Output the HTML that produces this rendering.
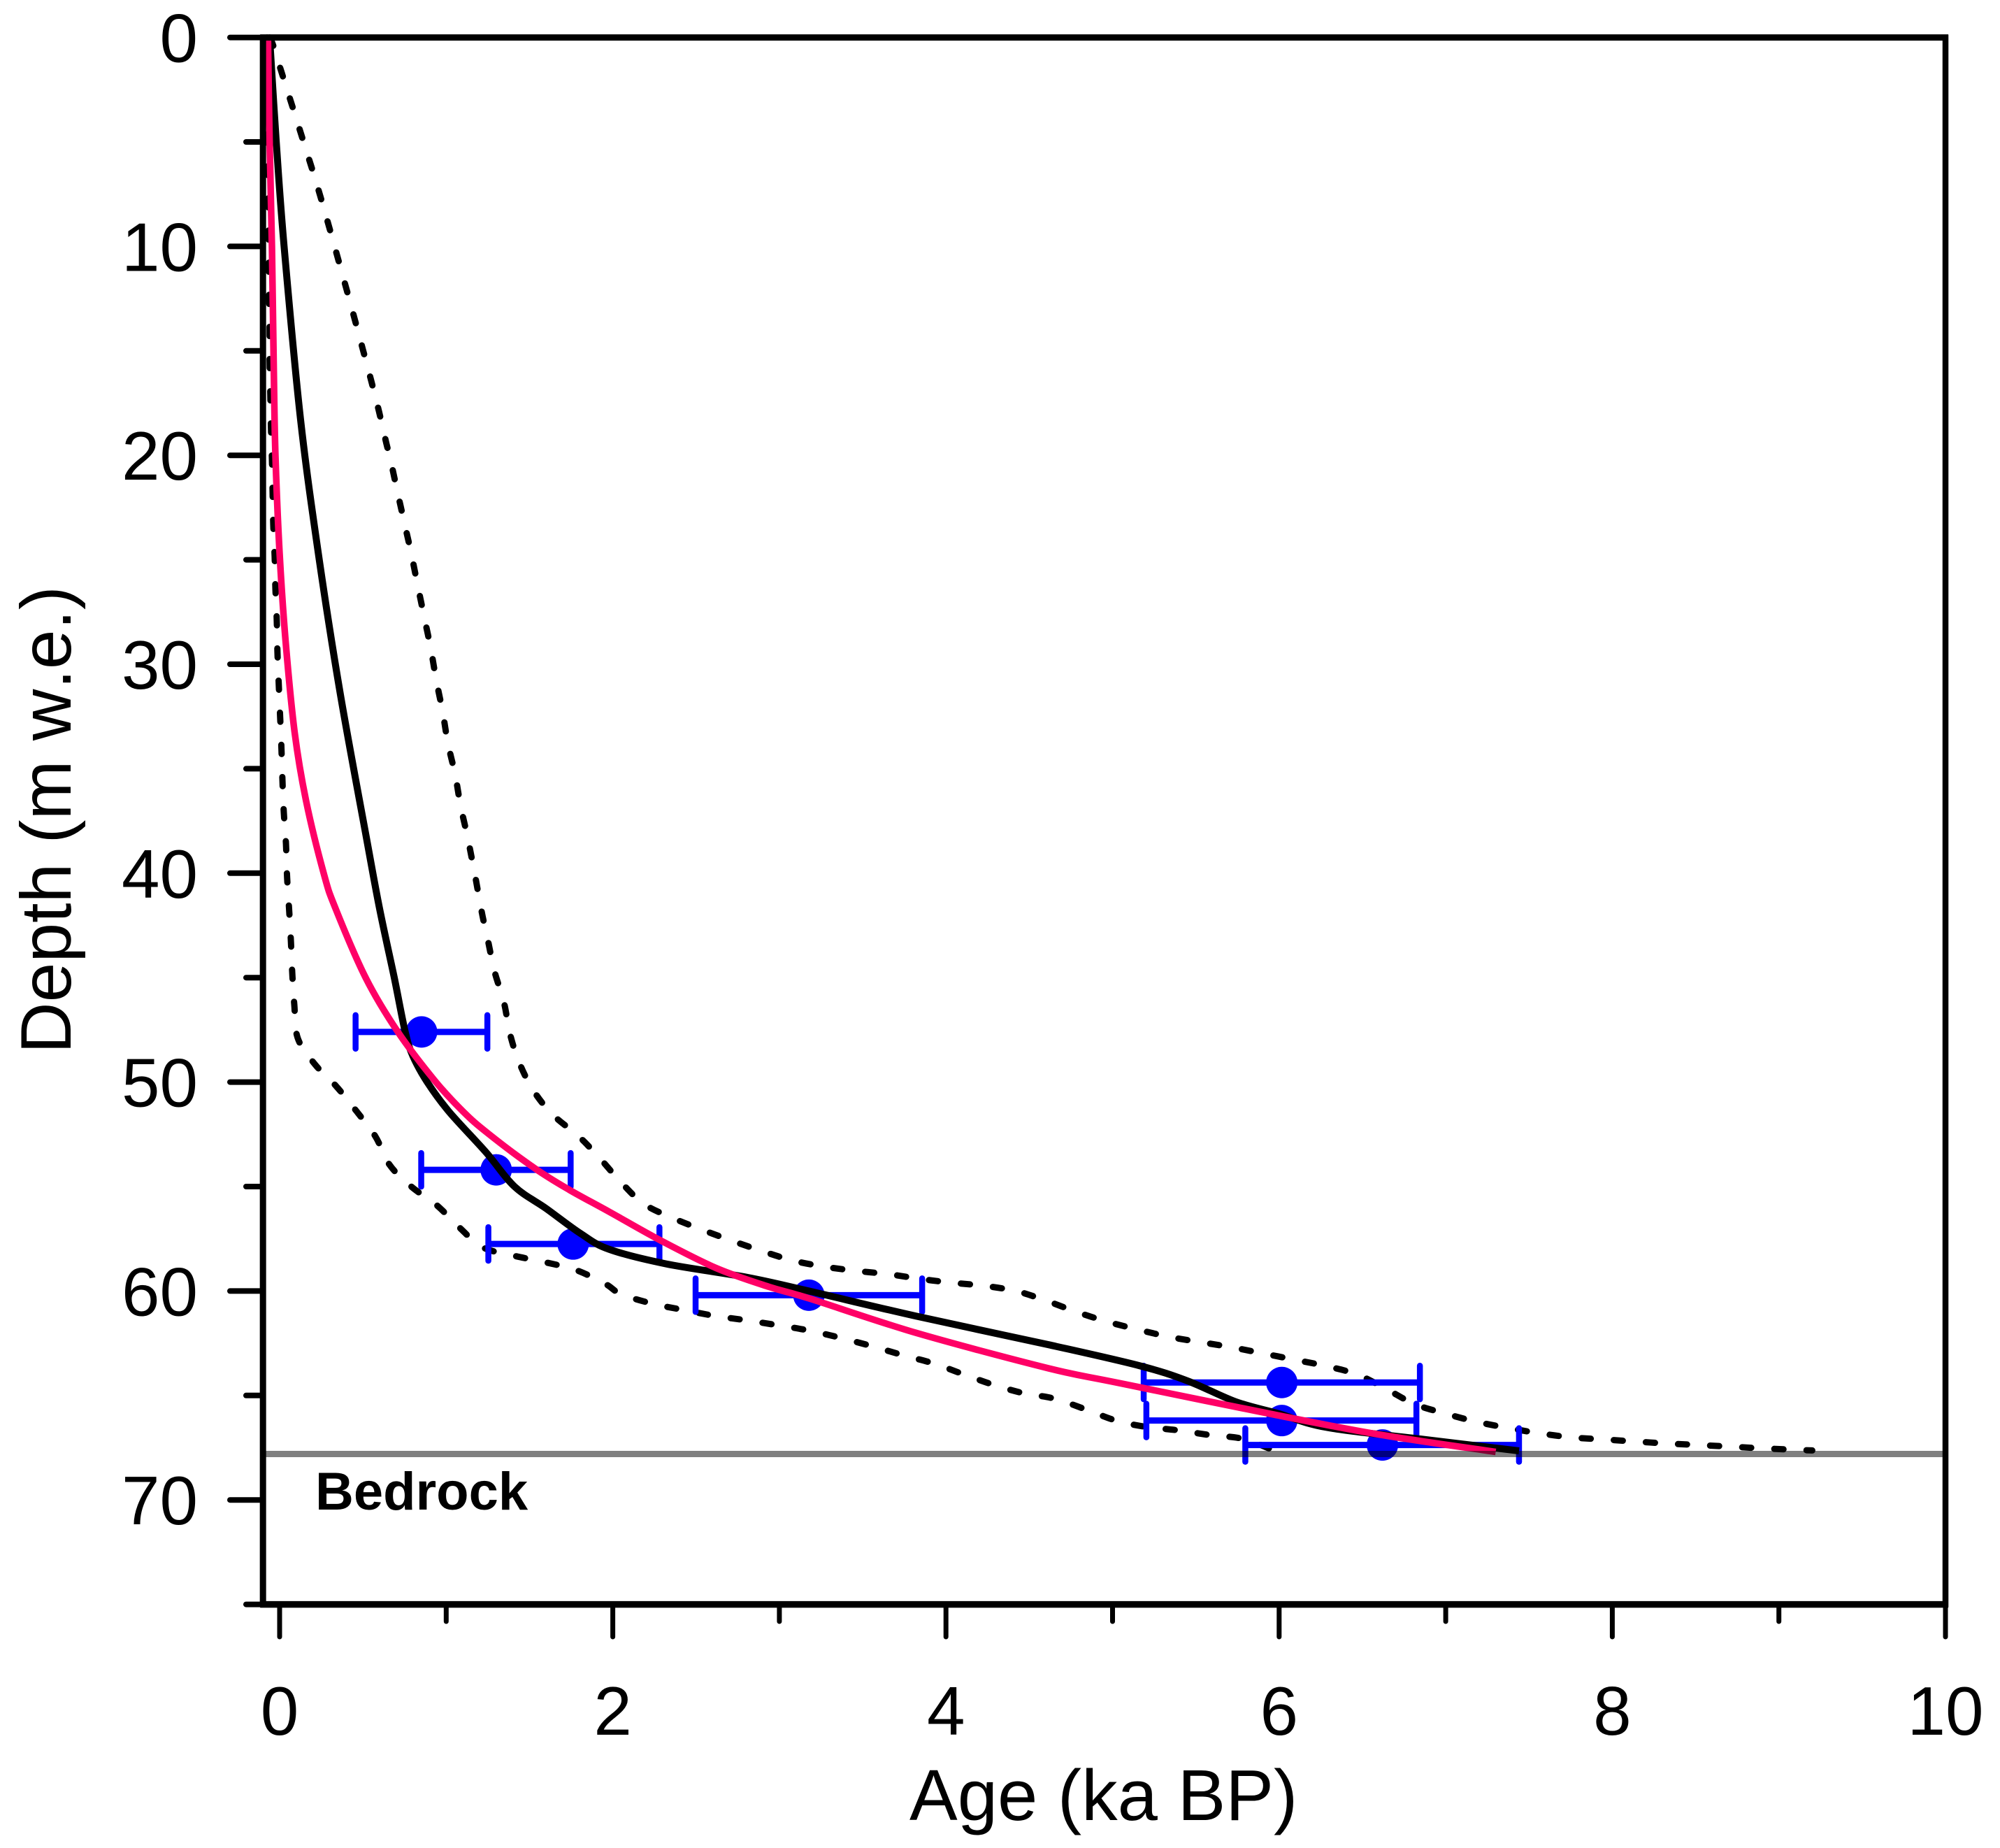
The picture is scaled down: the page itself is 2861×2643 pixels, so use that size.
<!DOCTYPE html>
<html lang="en">
<head>
<meta charset="utf-8">
<title>Age-depth model</title>
<style>
html,body{margin:0;padding:0;background:#fff;}
svg{display:block;}
text{font-family:"Liberation Sans",sans-serif;fill:#000;font-kerning:none;}
</style>
</head>
<body>
<svg id="chart" xmlns="http://www.w3.org/2000/svg" width="2861" height="2643" viewBox="0 0 2861 2643">
<rect x="0" y="0" width="2861" height="2643" fill="#fff"/>
<g id="curves"></g>
<g id="points"></g>
<g id="axes"></g>
<text x="451" y="2159" font-size="76" font-weight="700" style="font-weight:700">Bedrock</text>
<text x="1301" y="2603" font-size="103">Age (ka BP)</text>
<text transform="translate(101,1507) rotate(-90)" font-size="102">Depth (m w.e.)</text>
</svg>
<script>
const xTicksMajor = [0, 2, 4, 6, 8, 10];
const xTicksMinor = [1, 3, 5, 7, 9];
const yTicksMajor = [0, 10, 20, 30, 40, 50, 60, 70];
const yTicksMinor = [5, 15, 25, 35, 45, 55, 65, 75];
const bedrockDepth = 67.8;

const pointAges = [0.852, 1.30, 1.762, 3.177, 6.016, 6.016, 6.62];
const pointDepths = [47.6, 54.2, 57.75, 60.2, 64.38, 66.2, 67.37];
const pointAgeLow = [0.456, 0.85, 1.253, 2.497, 5.187, 5.203, 5.797];
const pointAgeHigh = [1.247, 1.747, 2.28, 3.857, 6.845, 6.824, 7.44];

const meanAges = [-0.06,-0.02,0.027,0.126,0.238,0.364,0.52,0.6,0.688,0.754,0.80,0.886,1.015,1.238,1.41,1.6,1.807,1.977,2.32,2.81,3.177,3.82,4.616,5.16,5.45,5.74,5.997,6.286,6.864,7.44];
const meanDepths = [0,5,10,18.3,25,31.4,38.26,41.7,45,47.6,48.75,50,51.4,53.35,55,56.05,57.25,58,58.7,59.35,60,61.2,62.57,63.57,64.3,65.3,65.87,66.53,67.1,67.65];

const fitAges = [-0.07,-0.06,-0.046,-0.035,-0.025,0,0.035,0.09,0.16,0.266,0.336,0.516,0.71,0.928,1.10,1.25,1.527,1.742,1.977,2.28,2.62,2.937,3.177,3.82,4.616,5.036,5.96,6.6,7.30];
const fitDepths = [0,5,10,16,20,24.7,28.8,33.24,36.58,40.05,41.7,45,47.6,49.9,51.4,52.45,54.1,55.17,56.2,57.55,58.9,59.8,60.35,62,63.7,64.4,65.9,66.87,67.7];

const upperAges = [-0.06,-0.04,0.013,0.128,0.243,0.399,0.45,0.5,0.55,0.597,0.64,0.665,0.706,0.748,0.79,0.828,0.867,0.907,0.94,0.978,1.01,1.054,1.087,1.128,1.17,1.213,1.25,1.29,1.347,1.383,1.44,1.527,1.645,1.796,1.925,2.05,2.186,2.358,2.534,2.717,2.9,3.08,3.273,3.466,3.66,3.845,4.03,4.226,4.42,4.6,4.784,4.965,5.155,5.343,5.53,5.72,5.91,6.1,6.286,6.47,6.645,6.81,6.99,7.18,7.37,7.556,7.75,7.94,8.13,8.33,8.52,8.71,8.9,9.1,9.2];
const upperDepths = [0,0.35,1.7,4.6,7.56,11.98,13.46,14.94,16.44,17.92,19.4,20.2,21.7,23.2,24.7,26.2,27.7,29.23,30.75,32.25,33.77,35.3,36.8,38.27,39.97,41.85,43.2,44.7,46.2,47.7,49.1,50.45,51.6,52.6,53.67,54.8,55.83,56.5,57.06,57.6,58.1,58.54,58.84,59.04,59.2,59.42,59.6,59.75,60,60.46,61,61.46,61.85,62.2,62.45,62.7,63,63.3,63.6,64,64.7,65.4,65.85,66.25,66.55,66.8,67,67.1,67.2,67.3,67.37,67.45,67.53,67.6,67.63];

const lowerAges = [-0.075,-0.07,-0.065,-0.063,-0.06,-0.06,-0.056,-0.052,-0.046,-0.042,-0.038,-0.03,-0.025,-0.017,-0.013,-0.005,0.003,0.011,0.017,0.025,0.038,0.045,0.058,0.068,0.076,0.088,0.109,0.212,0.34,0.462,0.575,0.66,0.79,0.944,1.078,1.217,1.40,1.593,1.78,1.955,2.05,2.235,2.42,2.62,2.8,3.0,3.184,3.37,3.56,3.74,3.927,4.11,4.29,4.47,4.65,4.84,5.02,5.2,5.396,5.59,5.78,5.96,6.02];
const lowerDepths = [0,5,10,12.5,14,15.5,17.1,18.67,20.2,21.8,23.3,24.85,26.4,27.9,29.43,31,32.5,34.05,35.6,37.1,38.6,40.2,41.86,43.3,44.8,46.3,47.9,49.15,50.2,51.4,52.6,53.96,55,55.9,56.95,57.9,58.3,58.62,59,59.66,60.15,60.6,60.9,61.2,61.4,61.65,61.9,62.25,62.65,63.07,63.47,64,64.5,64.9,65.15,65.67,66.2,66.5,66.67,66.9,67.07,67.6,67.8];

const SVGNS = 'http://www.w3.org/2000/svg';
const ageAxis = { origin: 400, perUnit: 238.3 };
const depthAxis = { origin: 53.6, perUnit: 29.88 };
function xScale(age) { return ageAxis.origin + age * ageAxis.perUnit; }
function yScale(depth) { return depthAxis.origin + depth * depthAxis.perUnit; }
const leftX = xScale(-0.1);
const rightX = xScale(10);
const topY = yScale(0);
const bottomY = yScale(75);

function make(tag, attrs, parent) {
  const el = document.createElementNS(SVGNS, tag);
  for (const k in attrs) el.setAttribute(k, attrs[k]);
  parent.appendChild(el);
  return el;
}
/* Catmull-Rom spline through the data points, so the curves read smooth */
function curvePath(ages, depths) {
  const p = ages.map((a, i) => [xScale(a), yScale(depths[i])]);
  let d = 'M' + p[0][0].toFixed(1) + ' ' + p[0][1].toFixed(1);
  for (let i = 0; i < p.length - 1; i++) {
    const p0 = p[Math.max(i - 1, 0)];
    const p1 = p[i];
    const p2 = p[i + 1];
    const p3 = p[Math.min(i + 2, p.length - 1)];
    const c1x = p1[0] + (p2[0] - p0[0]) / 6;
    const c1y = p1[1] + (p2[1] - p0[1]) / 6;
    const c2x = p2[0] - (p3[0] - p1[0]) / 6;
    const c2y = p2[1] - (p3[1] - p1[1]) / 6;
    d += 'C' + c1x.toFixed(1) + ' ' + c1y.toFixed(1) + ' ' + c2x.toFixed(1) + ' ' + c2y.toFixed(1) + ' ' + p2[0].toFixed(1) + ' ' + p2[1].toFixed(1);
  }
  return d;
}

const curves = document.getElementById('curves');
const pointsGroup = document.getElementById('points');
const axes = document.getElementById('axes');

/* dashed envelopes */
const upperLine = make('path', { d: curvePath(upperAges, upperDepths), fill: 'none', stroke: '#000', 'stroke-width': 9, 'stroke-dasharray': '13 33', 'stroke-linecap': 'round', 'stroke-linejoin': 'round' }, curves);


const lowerLine = make('path', { d: curvePath(lowerAges, lowerDepths), fill: 'none', stroke: '#000', 'stroke-width': 9, 'stroke-dasharray': '13 33', 'stroke-linecap': 'round', 'stroke-linejoin': 'round' }, curves);



/* data points with horizontal error bars */
pointAges.forEach((age, i) => {
  const y = yScale(pointDepths[i]);
  const x1 = xScale(pointAgeLow[i]);
  const x2 = xScale(pointAgeHigh[i]);
  const bar = make('line', { x1: x1, x2: x2, y1: y, y2: y, stroke: '#0000ff', 'stroke-width': 9 }, pointsGroup);
  
  
  const capL = make('line', { x1: x1, x2: x1, y1: y - 24, y2: y + 24, stroke: '#0000ff', 'stroke-width': 8.5, 'stroke-linecap': 'round' }, pointsGroup);
  
  
  const capR = make('line', { x1: x2, x2: x2, y1: y - 24, y2: y + 24, stroke: '#0000ff', 'stroke-width': 8.5, 'stroke-linecap': 'round' }, pointsGroup);
  
  
  const dot = make('circle', { cx: xScale(age), cy: y, r: 22.5, fill: '#0000ff' }, pointsGroup);
  
  
});

const svgRoot = curves.parentNode;

/* model curves */
const meanLine = make('path', { d: curvePath(meanAges, meanDepths), fill: 'none', stroke: '#000', 'stroke-width': 10, 'stroke-linejoin': 'round' }, svgRoot);


const fitLine = make('path', { d: curvePath(fitAges, fitDepths), fill: 'none', stroke: '#ff0066', 'stroke-width': 9.5, 'stroke-linejoin': 'round' }, svgRoot);



/* bedrock */
const bedrock = make('line', { x1: leftX, x2: rightX, y1: yScale(bedrockDepth), y2: yScale(bedrockDepth), stroke: '#808080', 'stroke-width': 9, style: 'mix-blend-mode:multiply' }, svgRoot);



/* keep axes and text above the curves */
svgRoot.appendChild(axes);
Array.from(svgRoot.querySelectorAll('text')).forEach(t => svgRoot.appendChild(t));

/* frame */
const frameTop = make('line', { x1: leftX - 4, x2: rightX + 4, y1: topY, y2: topY, stroke: '#000', 'stroke-width': 9 }, axes);


const frameBottom = make('line', { x1: leftX - 4, x2: rightX + 4, y1: bottomY, y2: bottomY, stroke: '#000', 'stroke-width': 9.5 }, axes);


const frameLeft = make('line', { x1: leftX, x2: leftX, y1: topY - 4, y2: bottomY + 4, stroke: '#000', 'stroke-width': 9 }, axes);


const frameRight = make('line', { x1: rightX, x2: rightX, y1: topY - 4, y2: bottomY + 4, stroke: '#000', 'stroke-width': 8.5 }, axes);



/* y ticks */
yTicksMajor.forEach(v => {
  const tick = make('line', { x1: 329, x2: leftX, y1: yScale(v), y2: yScale(v), stroke: '#000', 'stroke-width': 8, 'stroke-linecap': 'round' }, axes);
  
  
  const label = make('text', { x: 283, y: yScale(v) + 35, 'font-size': 98, 'text-anchor': 'end' }, axes);
  
  
  label.textContent = String(v);
});
yTicksMinor.forEach(v => {
  const tick = make('line', { x1: 352, x2: leftX, y1: yScale(v), y2: yScale(v), stroke: '#000', 'stroke-width': 8, 'stroke-linecap': 'round' }, axes);
  
  
});

/* x ticks */
xTicksMajor.forEach(v => {
  const tick = make('line', { x1: xScale(v), x2: xScale(v), y1: bottomY, y2: 2341, stroke: '#000', 'stroke-width': 7, 'stroke-linecap': 'round' }, axes);
  
  
  const label = make('text', { x: xScale(v), y: 2481, 'font-size': 98, 'text-anchor': 'middle' }, axes);
  
  
  label.textContent = String(v);
});
xTicksMinor.forEach(v => {
  const tick = make('line', { x1: xScale(v), x2: xScale(v), y1: bottomY, y2: 2319, stroke: '#000', 'stroke-width': 7, 'stroke-linecap': 'round' }, axes);
  
  
});
</script>
</body>
</html>
